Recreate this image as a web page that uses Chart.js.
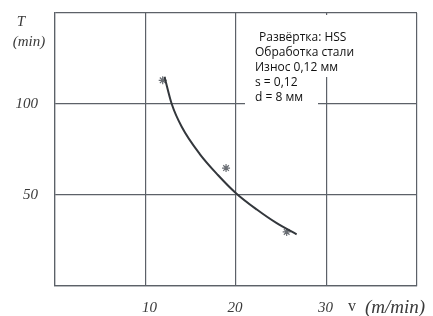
<!DOCTYPE html>
<html>
<head>
<meta charset="utf-8">
<script src="https://cdn.jsdelivr.net/npm/chart.js@4"></script>
<style>
	body { margin: 0; background: #fff; }
	#wrap { width: 433px; height: 316px; }
</style>
</head>
<body>
<div id="wrap"><canvas id="tool-life" width="433" height="316"></canvas></div>
<script>
// DATA =====================================================

// tool life curve T(v)
const curveSpeed = [12.1, 12.9, 14.0, 16.0, 18.0, 20.0, 22.3, 24.5, 26.7];
const curveLife = [115, 100, 87.5, 72.5, 61, 51, 42, 34.5, 28.4];

// measured points (asterisks)
const measuredSpeed = [11.9, 18.9, 25.6];
const measuredLife = [113, 64.8, 29.7];

const xTickValues = [10, 20, 30];
const yTickValues = [50, 100];

const noteLines = ["Развёртка: HSS", "Обработка стали", "Износ 0,12 мм", "s = 0,12", "d = 8 мм"];

// FUNCTIONS ================================================

const gridColour = "#5c6168";
const textColour = "#3a3a3a";
const serif = "italic 15px 'Liberation Serif', 'DejaVu Serif', serif";

let curvePoints = [];
for (let i = 0; i < curveSpeed.length; i++) curvePoints.push({ x: curveSpeed[i], y: curveLife[i] });
let measuredPoints = [];
for (let i = 0; i < measuredSpeed.length; i++) measuredPoints.push({ x: measuredSpeed[i], y: measuredLife[i] });

const labelsPlugin = {
	id: "labels",
	afterDraw: function (chart) {
		const ctx = chart.ctx;
		const xs = chart.scales.x;
		const ys = chart.scales.y;
		const area = chart.chartArea;
		ctx.save();
		ctx.fillStyle = textColour;
		ctx.font = serif;
		ctx.textBaseline = "middle";
		// y tick labels
		ctx.textAlign = "right";
		for (let i = 0; i < yTickValues.length; i++) {
			ctx.fillText(String(yTickValues[i]), 38, ys.getPixelForValue(yTickValues[i]));
		}
		// x tick labels
		ctx.textAlign = "center";
		for (let i = 0; i < xTickValues.length; i++) {
			const offset = i === 0 ? 4 : -1;
			ctx.fillText(String(xTickValues[i]), xs.getPixelForValue(xTickValues[i]) + offset, area.bottom + 22);
		}
		// axis titles
		ctx.fillText("T", 21, 22);
		ctx.fillText("(min)", 29, 42);
		ctx.font = "16px 'Liberation Serif', 'DejaVu Serif', serif";
		ctx.fillText("v", 352, area.bottom + 21);
		ctx.textAlign = "left";
		ctx.font = "italic 19px 'Liberation Serif', 'DejaVu Serif', serif";
		ctx.fillText("(m/min)", 365, area.bottom + 22);

		// note box, white behind the text so the grid is broken
		ctx.fillStyle = "#fff";
		ctx.fillRect(245, 15, 90, 62);
		ctx.fillRect(245, 77, 73, 30);
		ctx.fillStyle = "#111";
		ctx.font = "12px 'Open Sans', sans-serif";
		const noteX = [259, 255, 255, 255, 255];
		for (let i = 0; i < noteLines.length; i++) {
			ctx.fillText(noteLines[i], noteX[i], 38 + i * 14.9);
		}
		ctx.restore();
	},
};

const config = {
	type: "scatter",
	data: {
		datasets: [
			{
				data: curvePoints,
				showLine: true,
				cubicInterpolationMode: "monotone",
				borderColor: "#33373c",
				borderWidth: 2,
				pointRadius: 0,
			},
			{
				data: measuredPoints,
				pointStyle: "star",
				pointRadius: 4,
				borderColor: "#6a6e74",
				borderWidth: 1.2,
				backgroundColor: "#6a6e74",
			},
		],
	},
	options: {
		responsive: false,
		animation: false,
		layout: { padding: { left: 55, top: 13, right: 16, bottom: 30 } },
		plugins: { legend: { display: false }, tooltip: { enabled: false } },
		scales: {
			x: {
				type: "linear",
				min: 0,
				max: 40,
				ticks: { display: false, stepSize: 10 },
				grid: { color: gridColour, lineWidth: 1.2, drawTicks: false },
				border: { color: gridColour, width: 1.2 },
			},
			y: {
				type: "linear",
				min: 0,
				max: 150,
				ticks: { display: false, stepSize: 50 },
				grid: { color: gridColour, lineWidth: 1.2, drawTicks: false },
				border: { color: gridColour, width: 1.2 },
			},
		},
	},
	plugins: [labelsPlugin],
};

new Chart(document.getElementById("tool-life"), config);

// END ======================================================
</script>
</body>
</html>
